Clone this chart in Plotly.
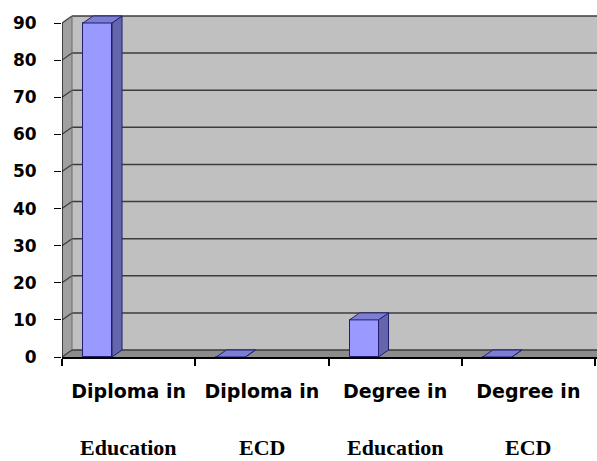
import plotly.graph_objects as go

# ---- data ----
categories_line1 = ["Diploma in", "Diploma in", "Degree in", "Degree in"]
categories_line2 = ["Education", "ECD", "Education", "ECD"]
values = [90, 0, 10, 0]
y_ticks = [0, 10, 20, 30, 40, 50, 60, 70, 80, 90]

# ---- styling constants ----
W, H = 597, 461
ML, MR, MT, MB = 62, 0, 8, 104
px_per_x = 133.25
px_per_y = 334 / 90.0
DX = 10 / px_per_x        # 3D depth offset (x units)
DY = 7 / px_per_y         # 3D depth offset (y units)
x_end = -0.5 + (W - ML - MR) / px_per_x
y_top = (H - MT - MB) / px_per_y
bar_offset = -45.6 / px_per_x
bar_width = 29 / px_per_x

xpos = list(range(len(values)))
ymax = max(y_ticks)

shapes = []
# back wall
shapes.append(dict(type="rect", xref="x", yref="y", layer="below",
                   x0=-0.5 + DX, x1=x_end, y0=DY, y1=ymax + DY,
                   fillcolor="#c0c0c0", line=dict(width=0)))
# left wall
shapes.append(dict(type="path", xref="x", yref="y", layer="below",
                   path=f"M {-0.5},{0} L {-0.5+DX},{DY} L {-0.5+DX},{ymax+DY} L {-0.5},{ymax} Z",
                   fillcolor="#a0a0a0", line=dict(width=0)))
# floor
shapes.append(dict(type="path", xref="x", yref="y", layer="below",
                   path=f"M {-0.5},{0} L {x_end},{0} L {x_end},{DY} L {-0.5+DX},{DY} Z",
                   fillcolor="#8c8c8c", line=dict(width=0)))
# gridlines (back wall + left wall diagonals)
for v in y_ticks:
    shapes.append(dict(type="line", xref="x", yref="y", layer="below",
                       x0=-0.5 + DX, x1=x_end, y0=v + DY, y1=v + DY,
                       line=dict(color="#3c3c3c", width=1.5)))
    shapes.append(dict(type="line", xref="x", yref="y", layer="below",
                       x0=-0.5, x1=-0.5 + DX, y0=v, y1=v + DY,
                       line=dict(color="#3c3c3c", width=1.2)))
# front vertical edge of left wall
shapes.append(dict(type="line", xref="x", yref="y", layer="below",
                   x0=-0.5, x1=-0.5, y0=0, y1=ymax,
                   line=dict(color="#000000", width=1.2)))
# left wall back vertical edge
shapes.append(dict(type="line", xref="x", yref="y", layer="below",
                   x0=-0.5 + DX, x1=-0.5 + DX, y0=DY, y1=ymax + DY,
                   line=dict(color="#6a6a6a", width=1)))

fig = go.Figure()

fig.add_trace(go.Bar(
    x=xpos, y=values, offset=bar_offset, width=bar_width,
    marker=dict(color="#9999ff", line=dict(color="#20206e", width=1)),
    hoverinfo="skip", showlegend=False))

# 3D side and top faces computed from the values
for xi, v in zip(xpos, values):
    xl = xi + bar_offset
    xr = xl + bar_width
    fig.add_trace(go.Scatter(
        x=[xr, xr + DX, xr + DX, xr, xr], y=[0, DY, v + DY, v, 0],
        fill="toself", fillcolor="#6565ad", mode="lines",
        line=dict(color="#20206e", width=1), hoverinfo="skip", showlegend=False))
    fig.add_trace(go.Scatter(
        x=[xl, xr, xr + DX, xl + DX, xl], y=[v, v, v + DY, v + DY, v],
        fill="toself", fillcolor="#7d7dd2", mode="lines",
        line=dict(color="#20206e", width=1), hoverinfo="skip", showlegend=False))

annotations = []
for xi, lab in zip(xpos, categories_line2):
    annotations.append(dict(
        x=xi, xref="x", y=0, yref="paper", yanchor="top", yshift=-77,
        borderpad=0,
        text=f"<b>{lab}</b>", showarrow=False,
        font=dict(family="Liberation Serif", size=22, color="#000000")))

fig.update_layout(
    width=W, height=H,
    margin=dict(l=ML, r=MR, t=MT, b=MB, pad=0),
    paper_bgcolor="#ffffff", plot_bgcolor="rgba(0,0,0,0)",
    bargap=0, showlegend=False,
    shapes=shapes, annotations=annotations,
    xaxis=dict(range=[-0.5, x_end], tickmode="array", tickvals=xpos,
               ticktext=[f"<b>{t}</b>" for t in categories_line1],
               ticks="", showgrid=False, zeroline=False,
               showline=True, linecolor="#000000", linewidth=1.5,
               ticklabelstandoff=16,
               tickfont=dict(family="DejaVu Sans", size=19, color="#000000"),
               minor=dict(tickmode="array", tickvals=[i - 0.5 for i in range(len(values) + 1)],
                          ticks="outside", ticklen=7, tickcolor="#000000", tickwidth=1.5,
                          showgrid=False)),
    yaxis=dict(range=[0, y_top], tickmode="array", tickvals=y_ticks,
               ticktext=[f"<b>{t}</b>" for t in y_ticks],
               ticks="outside", ticklen=7, tickcolor="#000000", tickwidth=1.2,
               showgrid=False, zeroline=False, showline=False,
               ticklabelstandoff=14,
               tickfont=dict(family="DejaVu Sans", size=17, color="#000000")),
)

fig.write_html("out.html",
               config={"displayModeBar": False},
               post_script="document.body.style.margin='0';document.body.style.padding='0';")
